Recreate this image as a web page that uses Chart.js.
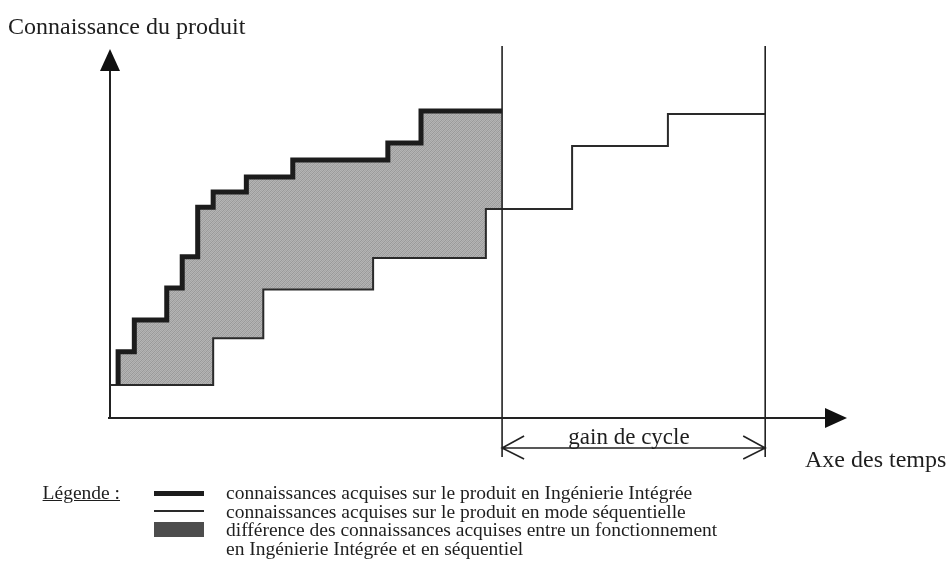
<!DOCTYPE html>
<html lang="fr">
<head>
<meta charset="utf-8">
<title>Connaissance du produit</title>
<script src="https://cdn.jsdelivr.net/npm/chart.js@4.4.1/dist/chart.umd.min.js"></script>
<style>
  html, body { margin: 0; padding: 0; background: #fff; }
  #wrap { position: relative; width: 949px; height: 582px; overflow: hidden;
          font-family: "Liberation Serif", "DejaVu Serif", serif; color: #1e1e1e; }
  #wrap canvas { position: absolute; left: 0; top: 0; }
  .txt { position: absolute; white-space: nowrap; line-height: 1; }
  .leg { font-size: 19.5px; left: 226px; }
  .sw { position: absolute; left: 154px; width: 50px; }
</style>
</head>
<body>
<div id="wrap">
  <canvas id="c" width="949" height="582"></canvas>
  <div class="txt" style="left:8px; top:14px; font-size:24px;">Connaissance du produit</div>
  <div class="txt" style="left:629px; top:425px; font-size:23px; transform:translateX(-50%);">gain de cycle</div>
  <div class="txt" style="left:805px; top:447px; font-size:24px;">Axe des temps</div>

  <div class="txt" style="right:829px; top:483px; font-size:19.5px; text-decoration:underline;">Légende :</div>
  <div class="sw" style="top:491px; height:5px; background:#1c1c1c;"></div>
  <div class="sw" style="top:510px; height:2px; background:#2a2a2a;"></div>
  <div class="sw" style="top:522px; height:15px; background:#4d4d4d;"></div>
  <div class="txt leg" style="top:483px;">connaissances acquises sur le produit en Ingénierie Intégrée</div>
  <div class="txt leg" style="top:501.5px;">connaissances acquises sur le produit en mode séquentielle</div>
  <div class="txt leg" style="top:520px;">différence des connaissances acquises entre un fonctionnement</div>
  <div class="txt leg" style="top:539px;">en Ingénierie Intégrée et en séquentiel</div>
</div>
<script>
// temps (0 = axe vertical, 100 = pointe de la flèche) et connaissance (0-100)
// Ingénierie Intégrée : début de chaque palier, puis fin du dernier
const integreeX = [1.1, 3.3, 7.7, 9.8, 11.9, 14.0, 18.5, 24.8, 37.7, 42.2, 53.2];
const integreeY = [18.0, 26.6, 35.3, 43.8, 57.3, 61.4, 65.5, 70.1, 74.7, 83.4];
// mode séquentiel
const sequentielX = [0, 14.0, 20.8, 35.7, 51.0, 62.7, 75.7, 88.9];
const sequentielY = [9.0, 21.7, 34.9, 43.5, 56.8, 73.9, 82.6];

// transforme des paliers en coins de la ligne en escalier
function escalier(xs, ys, depart) {
  const pts = [];
  if (depart !== undefined) pts.push({x: xs[0], y: depart});
  ys.forEach((v, i) => {
    pts.push({x: xs[i], y: v});
    pts.push({x: xs[i + 1], y: v});
  });
  return pts;
}

// même escalier limité à [debut, fin] (sert de limite basse au remplissage)
function tronquer(xs, ys, debut, fin) {
  const nx = [debut], ny = [];
  for (let i = 0; i < ys.length; i++) {
    if (xs[i + 1] <= debut || xs[i] >= fin) continue;
    if (xs[i] > debut) nx.push(xs[i]);
    ny.push(ys[i]);
  }
  nx.push(fin);
  return escalier(nx, ny);
}

const canvas = document.getElementById('c');
const ctx = canvas.getContext('2d');

// trame grise du remplissage
const tile = document.createElement('canvas');
tile.width = 4; tile.height = 4;
const tctx = tile.getContext('2d');
const trame = [
  ['#b4b4b4', '#999999', '#b4b4b4', '#a6a6a6'],
  ['#999999', '#b4b4b4', '#a2a2a2', '#b4b4b4'],
  ['#b4b4b4', '#a6a6a6', '#b4b4b4', '#999999'],
  ['#a2a2a2', '#b4b4b4', '#999999', '#b4b4b4']
];
trame.forEach((row, j) => row.forEach((col, i) => {
  tctx.fillStyle = col;
  tctx.fillRect(i, j, 1, 1);
}));
const motif = ctx.createPattern(tile, 'repeat');

const finIntegree = integreeX[integreeX.length - 1];
const finSequentiel = sequentielX[sequentielX.length - 1];

// axes, flèches, repères de fin et "gain de cycle"
const schema = {
  id: 'schema',
  beforeDatasetsDraw(chart) {
    const {ctx, scales: {x, y}} = chart;
    const x0 = x.getPixelForValue(0), y0 = y.getPixelForValue(0);
    const xEnd = x.getPixelForValue(100), yEnd = y.getPixelForValue(100);
    ctx.save();
    ctx.strokeStyle = '#222';
    ctx.fillStyle = '#111';
    ctx.lineWidth = 2;
    ctx.beginPath();
    ctx.moveTo(x0, y0 + 1);
    ctx.lineTo(x0, yEnd + 18);
    ctx.moveTo(x0 - 2, y0);
    ctx.lineTo(xEnd - 20, y0);
    ctx.stroke();

    ctx.beginPath();
    ctx.moveTo(x0, yEnd - 1);
    ctx.lineTo(x0 - 10, yEnd + 21);
    ctx.lineTo(x0 + 10, yEnd + 21);
    ctx.closePath();
    ctx.fill();
    ctx.beginPath();
    ctx.moveTo(xEnd, y0);
    ctx.lineTo(xEnd - 22, y0 - 10);
    ctx.lineTo(xEnd - 22, y0 + 10);
    ctx.closePath();
    ctx.fill();
    ctx.restore();
  },
  afterDatasetsDraw(chart) {
    const {ctx, scales: {x, y}} = chart;
    const y0 = y.getPixelForValue(0), yTop = y.getPixelForValue(100) - 4;
    const xa = x.getPixelForValue(finIntegree), xb = x.getPixelForValue(finSequentiel);
    ctx.save();
    ctx.strokeStyle = '#222';
    ctx.lineWidth = 1.6;
    ctx.beginPath();
    [xa, xb].forEach(px => {
      ctx.moveTo(px, yTop);
      ctx.lineTo(px, y0 + 39);
    });
    const ya = y0 + 30;
    ctx.moveTo(xa, ya);
    ctx.lineTo(xb, ya);
    ctx.moveTo(xa + 22, ya - 12); ctx.lineTo(xa, ya); ctx.lineTo(xa + 22, ya + 11);
    ctx.moveTo(xb - 22, ya - 12); ctx.lineTo(xb, ya); ctx.lineTo(xb - 22, ya + 11);
    ctx.stroke();
    ctx.restore();
  }
};

new Chart(ctx, {
  type: 'line',
  data: {
    datasets: [
      {
        label: 'connaissances acquises sur le produit en Ingénierie Intégrée',
        data: escalier(integreeX, integreeY, sequentielY[0]),
        borderColor: '#1c1c1c',
        borderWidth: 5,
        backgroundColor: motif,
        fill: {target: 1},
        clip: false
      },
      {
        label: 'limite',
        data: tronquer(sequentielX, sequentielY, integreeX[0], finIntegree),
        borderColor: 'rgba(0,0,0,0)',
        borderWidth: 0,
        fill: false,
        clip: false
      },
      {
        label: 'connaissances acquises sur le produit en mode séquentielle',
        data: escalier(sequentielX, sequentielY),
        borderColor: '#2a2a2a',
        borderWidth: 2,
        fill: false,
        clip: false
      }
    ]
  },
  options: {
    responsive: false,
    animation: false,
    devicePixelRatio: 1,
    layout: {padding: {left: 110, right: 102, top: 50, bottom: 164}},
    scales: {
      x: {type: 'linear', min: 0, max: 100, display: false},
      y: {type: 'linear', min: 0, max: 100, display: false}
    },
    elements: {
      point: {radius: 0, hoverRadius: 0},
      line: {tension: 0, borderCapStyle: 'butt', borderJoinStyle: 'miter'}
    },
    plugins: {
      legend: {display: false},
      tooltip: {enabled: false},
      filler: {drawTime: 'beforeDatasetsDraw'}
    }
  },
  plugins: [schema]
});
</script>
</body>
</html>
